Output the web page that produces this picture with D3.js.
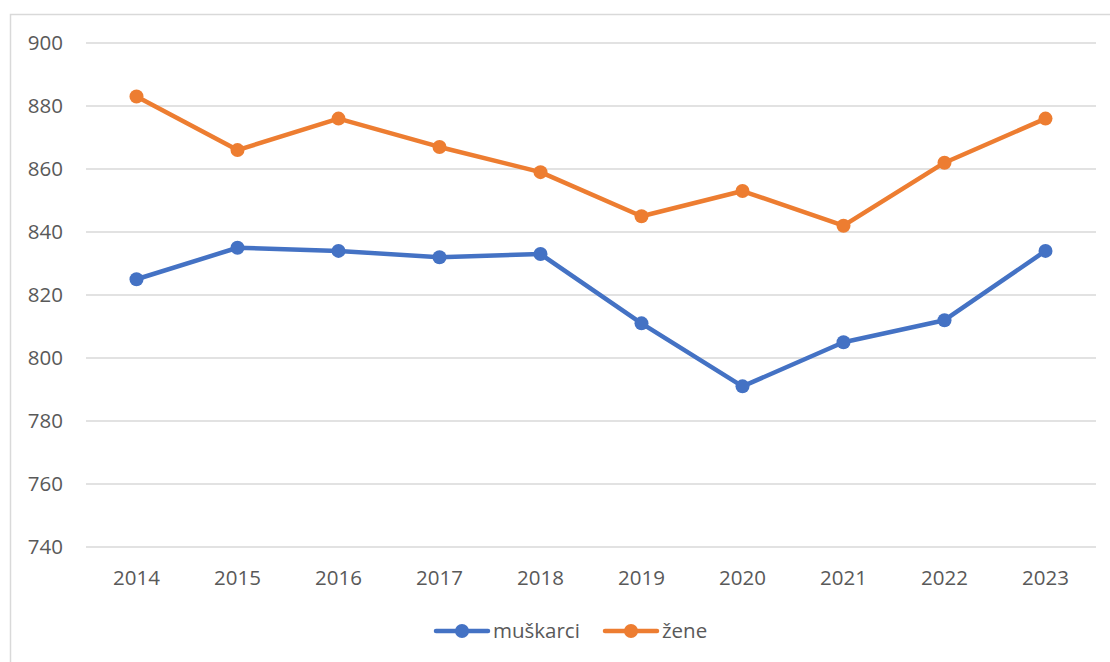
<!DOCTYPE html>
<html>
<head>
<meta charset="utf-8">
<script src="https://cdn.jsdelivr.net/npm/d3@7"></script>
<style>
  html, body { margin: 0; padding: 0; background: #fff; }
  svg { display: block; }
  text { font-family: "Open Sans", "Noto Sans", sans-serif; fill: #595959; }
</style>
</head>
<body>
<svg id="chart" width="1110" height="662"></svg>
<script>
const years = ["2014","2015","2016","2017","2018","2019","2020","2021","2022","2023"];
const muskarci = [825, 835, 834, 832, 833, 811, 791, 805, 812, 834];
const zene = [883, 866, 876, 867, 859, 845, 853, 842, 862, 876];
const yTicks = [740, 760, 780, 800, 820, 840, 860, 880, 900];
const seriesNames = ["muškarci", "žene"];
const seriesColors = ["#4472C4", "#ED7D31"];

const svg = d3.select("#chart");
const mLeft = 86, mRight = 1096, mTop = 43, mBottom = 547;
const fs = "20.5px";

// outer frame
svg.append("rect")
  .attr("x", 10.5).attr("y", 14.5)
  .attr("width", 1120).attr("height", 700)
  .attr("fill", "none").attr("stroke", "#d9d9d9").attr("stroke-width", 1.5);

const x = d3.scaleBand().domain(years).range([mLeft, mRight]).padding(0);
const y = d3.scaleLinear().domain([740, 900]).range([mBottom, mTop]);

// gridlines
svg.append("g").selectAll("line").data(yTicks).join("line")
  .attr("x1", mLeft).attr("x2", mRight)
  .attr("y1", d => y(d)).attr("y2", d => y(d))
  .attr("stroke", "#d9d9d9").attr("stroke-width", 1.5);

// y axis labels
const yAxis = d3.axisLeft(y).tickValues(yTicks).tickSize(0).tickPadding(23);
const gy = svg.append("g").attr("transform", `translate(${mLeft},0)`).call(yAxis);
gy.select(".domain").remove();
gy.selectAll("text").style("font-size", fs).attr("fill", "#595959")
  .style("font-family", "'Open Sans', sans-serif");

// x axis labels
const xAxis = d3.axisBottom(x).tickSize(0).tickPadding(23);
const gx = svg.append("g").attr("transform", `translate(0,${mBottom})`).call(xAxis);
gx.select(".domain").remove();
gx.selectAll("text").style("font-size", fs).attr("fill", "#595959")
  .style("font-family", "'Open Sans', sans-serif");

const line = d3.line().x((d, i) => x(years[i]) + x.bandwidth() / 2).y(d => y(d));

[muskarci, zene].forEach((data, si) => {
  const g = svg.append("g");
  g.append("path").datum(data)
    .attr("d", line)
    .attr("fill", "none")
    .attr("stroke", seriesColors[si])
    .attr("stroke-width", 4.5)
    .attr("stroke-linejoin", "round")
    .attr("stroke-linecap", "round");
  g.selectAll("circle").data(data).join("circle")
    .attr("cx", (d, i) => x(years[i]) + x.bandwidth() / 2)
    .attr("cy", d => y(d))
    .attr("r", 7)
    .attr("fill", seriesColors[si]);
});

// legend
const legendItems = [
  { name: seriesNames[0], color: seriesColors[0], x0: 436 },
  { name: seriesNames[1], color: seriesColors[1], x0: 605 }
];
const ly = 631;
legendItems.forEach(it => {
  const g = svg.append("g");
  g.append("line").attr("x1", it.x0).attr("x2", it.x0 + 52)
    .attr("y1", ly).attr("y2", ly)
    .attr("stroke", it.color).attr("stroke-width", 4.5).attr("stroke-linecap", "round");
  g.append("circle").attr("cx", it.x0 + 26).attr("cy", ly).attr("r", 7).attr("fill", it.color);
  g.append("text").attr("x", it.x0 + 57).attr("y", ly).attr("dy", "0.35em")
    .style("font-size", fs).text(it.name);
});
</script>
</body>
</html>
